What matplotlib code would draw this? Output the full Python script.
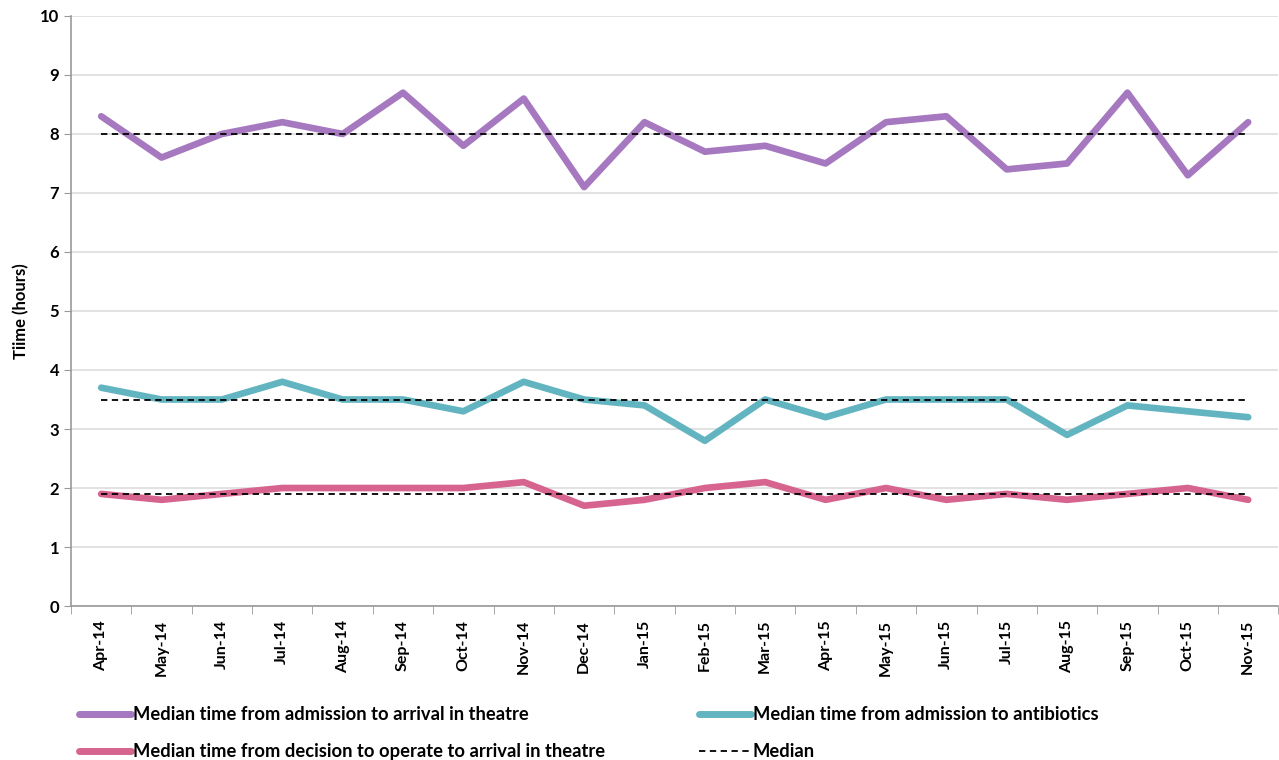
import matplotlib
matplotlib.use("Agg")
import matplotlib.pyplot as plt
from matplotlib.lines import Line2D
import numpy as np

plt.rcParams["font.family"] = ["Lato", "DejaVu Sans"]

months = ["Apr-14", "May-14", "Jun-14", "Jul-14", "Aug-14", "Sep-14", "Oct-14",
          "Nov-14", "Dec-14", "Jan-15", "Feb-15", "Mar-15", "Apr-15", "May-15",
          "Jun-15", "Jul-15", "Aug-15", "Sep-15", "Oct-15", "Nov-15"]
admission_theatre = [8.3, 7.6, 8.0, 8.2, 8.0, 8.7, 7.8, 8.6, 7.1, 8.2,
                     7.7, 7.8, 7.5, 8.2, 8.3, 7.4, 7.5, 8.7, 7.3, 8.2]
admission_antibiotics = [3.7, 3.5, 3.5, 3.8, 3.5, 3.5, 3.3, 3.8, 3.5, 3.4,
                         2.8, 3.5, 3.2, 3.5, 3.5, 3.5, 2.9, 3.4, 3.3, 3.2]
decision_theatre = [1.9, 1.8, 1.9, 2.0, 2.0, 2.0, 2.0, 2.1, 1.7, 1.8,
                    2.0, 2.1, 1.8, 2.0, 1.8, 1.9, 1.8, 1.9, 2.0, 1.8]
medians = [8.0, 3.5, 1.9]

labels = ["Median time from admission to arrival in theatre",
          "Median time from admission to antibiotics",
          "Median time from decision to operate to arrival in theatre",
          "Median"]
colors = ["#A678C0", "#62B5C0", "#D6648E"]

fig = plt.figure(figsize=(12.79, 7.6), dpi=100)
ax = fig.add_axes([0.0555, 0.2026, 0.944, 0.7764])

x = np.arange(len(months))
for series, color in zip([admission_theatre, admission_antibiotics, decision_theatre], colors):
    ax.plot(x, series, color=color, lw=4.8, solid_capstyle="round", zorder=3)
for m in medians:
    ax.plot(x, [m] * len(x), color="black", lw=1.3, ls=(0, (3.5, 2.5)), zorder=4)

ax.set_xlim(-0.5, len(months) - 0.5)
ax.set_ylim(0, 10)
ax.set_yticks(range(0, 11))
ax.set_xticks(x)
ax.set_xticklabels(months, rotation=90, fontsize=11.5, fontweight="bold")
ax.set_xticks(np.arange(-0.5, len(months)), minor=True)
ax.tick_params(axis="x", which="major", length=0, pad=10)
ax.tick_params(axis="x", which="minor", length=6, color="#999999")
ax.tick_params(axis="y", length=5, color="#999999", labelsize=12)
for lab in ax.get_yticklabels():
    lab.set_fontweight("bold")
ax.set_ylabel("Tiime (hours)", fontsize=12, fontweight="bold", labelpad=8)

ax.grid(axis="y", color="#DDDDDD", lw=1.2, zorder=0)
ax.set_axisbelow(True)
for side in ["top", "right"]:
    ax.spines[side].set_visible(False)
for side in ["left", "bottom"]:
    ax.spines[side].set_color("#999999")
    ax.spines[side].set_linewidth(1.2)

handles = [Line2D([], [], color=colors[0], lw=5, solid_capstyle="round"),
           Line2D([], [], color=colors[2], lw=5, solid_capstyle="round"),
           Line2D([], [], color=colors[1], lw=5, solid_capstyle="round"),
           Line2D([], [], color="black", lw=1.3, ls=(0, (3.5, 2.5)))]
order_labels = [labels[0], labels[2], labels[1], labels[3]]
fig.legend(handles, order_labels, loc="lower left", bbox_to_anchor=(0.049, -0.022),
           ncol=2, frameon=False, handlelength=2.85, handletextpad=0.1,
           columnspacing=5.1, labelspacing=1.1, prop={"weight": "bold", "size": 13.2})

fig.savefig("out.png", dpi=100)
